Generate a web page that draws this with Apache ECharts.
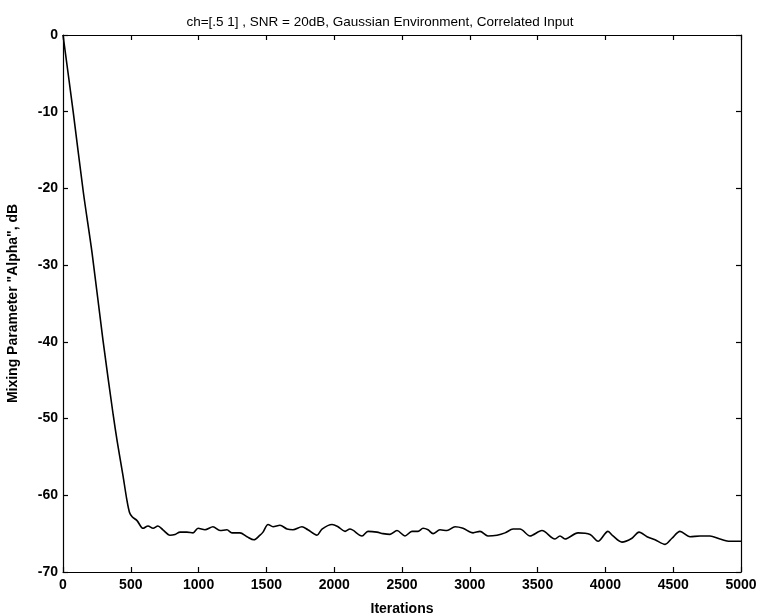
<!DOCTYPE html>
<html>
<head>
<meta charset="utf-8">
<script src="https://cdn.jsdelivr.net/npm/echarts@6/dist/echarts.min.js"></script>
<style>html,body{margin:0;padding:0;background:#fff;}#c{width:760px;height:616px;}</style>
</head>
<body>
<div id="c"></div>
<script>
const titleText = 'ch=[.5 1] , SNR = 20dB, Gaussian Environment, Correlated Input';
const xLabel = 'Iterations';
const yLabel = 'Mixing Parameter "Alpha", dB';
const iterations = [0,75,150,215,295,370,400,443,470,490,510,546,590,627,664,700,737,789,826,863,914,959,996,1047,1106,1158,1209,1246,1305,1357,1408,1453,1475,1512,1549,1600,1652,1696,1762,1806,1873,1910,1984,2028,2080,2116,2205,2249,2316,2360,2411,2463,2522,2573,2618,2655,2692,2729,2780,2832,2891,2950,3024,3075,3134,3201,3260,3319,3370,3444,3532,3628,3665,3702,3798,3887,3946,4019,4056,4122,4196,4248,4307,4366,4440,4491,4550,4624,4698,4771,4845,4919,5000];
const alphaDb = [0,-10,-20.5,-28.5,-39.8,-49.5,-53,-57.5,-60.5,-62.2,-62.8,-63.3,-64.3,-64.0,-64.3,-64.0,-64.5,-65.2,-65.1,-64.8,-64.8,-64.9,-64.3,-64.5,-64.1,-64.6,-64.5,-64.9,-64.9,-65.4,-65.8,-65.2,-64.8,-63.8,-64.1,-63.9,-64.4,-64.5,-64.1,-64.5,-65.2,-64.4,-63.8,-64.1,-64.7,-64.4,-65.3,-64.7,-64.8,-65.0,-65.1,-64.6,-65.3,-64.7,-64.7,-64.3,-64.5,-65.0,-64.5,-64.6,-64.1,-64.3,-64.9,-64.7,-65.3,-65.2,-64.9,-64.4,-64.4,-65.3,-64.6,-65.7,-65.3,-65.7,-64.9,-65.1,-66.0,-64.7,-65.3,-66.1,-65.6,-64.8,-65.4,-65.8,-66.4,-65.6,-64.7,-65.4,-65.3,-65.3,-65.7,-66.0,-66.0];
const xMin = 0, xMax = 5000, xStep = 500;
const yMin = -70, yMax = 0, yStep = 10;

const pts = iterations.map((x, i) => [x, alphaDb[i]]);
const font = 'Liberation Sans, Arial, sans-serif';
const axisLine = { show: true, onZero: false, lineStyle: { color: '#000', width: 1.2 } };
const tick = { show: true, inside: true, length: 5, lineStyle: { color: '#000', width: 1.2 } };
const plain = v => String(v);

const chart = echarts.init(document.getElementById('c'), null, { renderer: 'canvas' });
chart.setOption({
  backgroundColor: '#fff',
  animation: false,
  title: {
    text: titleText, left: 'center', top: 10,
    textStyle: { fontFamily: font, fontSize: 13.5, fontWeight: 'normal', color: '#000' }
  },
  grid: { left: 63, right: 19, top: 35, bottom: 44, containLabel: false, outerBoundsMode: 'none' },
  xAxis: [{
    type: 'value', min: xMin, max: xMax, interval: xStep,
    axisLine, axisTick: tick, splitLine: { show: false },
    axisLabel: { color: '#000', fontFamily: font, fontSize: 14, fontWeight: 'bold', margin: 6, formatter: plain },
    name: xLabel, nameLocation: 'middle', nameGap: 30,
    nameTextStyle: { color: '#000', fontFamily: font, fontSize: 14, fontWeight: 'bold' }
  }, {
    type: 'value', position: 'top', min: xMin, max: xMax, interval: xStep,
    axisLine, axisTick: tick, axisLabel: { show: false }, splitLine: { show: false }
  }],
  yAxis: [{
    type: 'value', min: yMin, max: yMax, interval: yStep,
    axisLine, axisTick: tick, splitLine: { show: false },
    axisLabel: { color: '#000', fontFamily: font, fontSize: 14, fontWeight: 'bold', margin: 5, formatter: plain },
    name: yLabel, nameLocation: 'middle', nameGap: 43, nameRotate: 90,
    nameTextStyle: { color: '#000', fontFamily: font, fontSize: 14, fontWeight: 'bold' }
  }, {
    type: 'value', position: 'right', min: yMin, max: yMax, interval: yStep,
    axisLine, axisTick: tick, axisLabel: { show: false }, splitLine: { show: false }
  }],
  series: [{
    type: 'line', data: pts, showSymbol: false, smooth: 0.3,
    lineStyle: { color: '#000', width: 1.6 }
  }]
});
</script>
</body>
</html>
